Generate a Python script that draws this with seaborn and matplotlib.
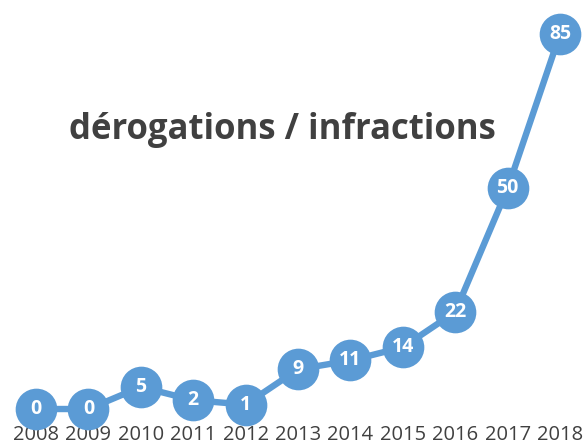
import numpy as np
import pandas as pd
import seaborn as sns
import matplotlib.pyplot as plt

sns.set_style("white")
plt.rcParams['font.family'] = ['Open Sans', 'DejaVu Sans']

# data
years = [2008, 2009, 2010, 2011, 2012, 2013, 2014, 2015, 2016, 2017, 2018]
counts = [0, 0, 5, 2, 1, 9, 11, 14, 22, 50, 85]
title = "dérogations / infractions"

blue = "#5B9BD5"
grey = "#404040"

df = pd.DataFrame({"year": years, "count": counts})

fig = plt.figure(figsize=(5.85, 4.45), dpi=100)
ax = fig.add_axes([0, 0, 1, 1])

sns.lineplot(data=df, x="year", y="count", ax=ax, color=blue, linewidth=4.6,
             marker="o", markersize=30, markeredgewidth=0, markerfacecolor=blue)

for x, y in zip(years, counts):
    ax.text(x, y, str(y), ha="center", va="center", color="white",
            fontsize=14, fontweight="bold")

ax.set_xlim(2007.313, 2018.477)
ax.set_ylim(-8.16, 92.74)
ax.set_xticks(years)
ax.set_xticklabels([str(y) for y in years])
ax.set_yticks([])
ax.tick_params(axis="x", direction="in", length=0, pad=-14.5, labelsize=14.5,
               labelcolor=grey)
ax.set_xlabel("")
ax.set_ylabel("")
sns.despine(ax=ax, left=True, bottom=True)

ax.text(0.483, 0.707, title, transform=ax.transAxes, ha="center", va="center",
        fontsize=25, fontweight="bold", color=grey)

fig.savefig("out.png", dpi=100)
